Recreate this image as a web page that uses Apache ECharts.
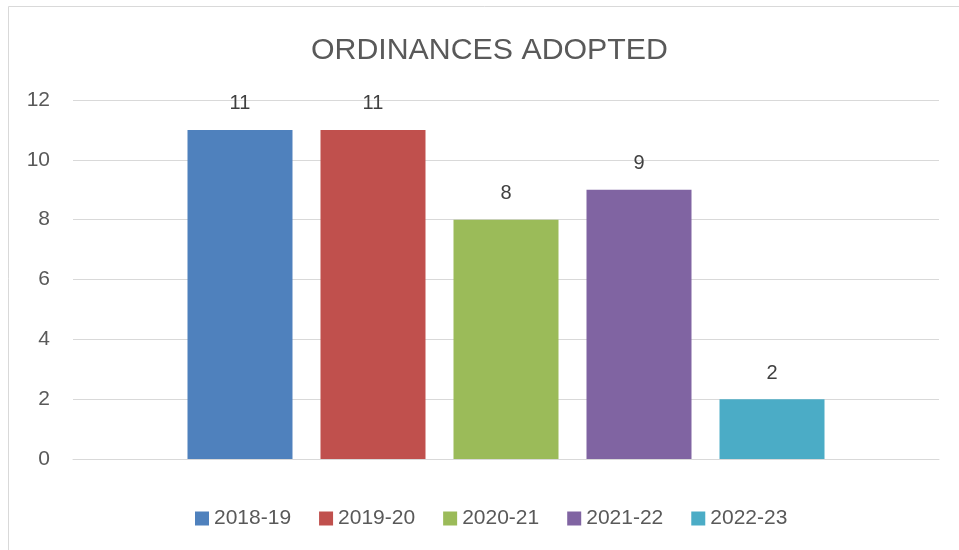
<!DOCTYPE html>
<html>
<head>
<meta charset="utf-8">
<script src="https://cdn.jsdelivr.net/npm/echarts@6/dist/echarts.min.js"></script>
<style>
html,body{margin:0;padding:0;background:#fff;}
#chart{width:959px;height:550px;}
</style>
</head>
<body>
<div id="chart"></div>
<script>
const titleText = 'ORDINANCES ADOPTED';
const seriesNames = ['2018-19', '2019-20', '2020-21', '2021-22', '2022-23'];
const seriesValues = [11, 11, 8, 9, 2];
const seriesColors = ['#4F81BD', '#C0504D', '#9BBB59', '#8064A2', '#4BACC6'];
const categories = [''];
const yTicks = [0, 2, 4, 6, 8, 10, 12];

const FONT = '"Liberation Sans", Arial, sans-serif';
const chart = echarts.init(document.getElementById('chart'), null, {renderer: 'canvas'});

const series = seriesNames.map((name, i) => ({
  name: name,
  type: 'bar',
  data: [seriesValues[i]],
  barWidth: 105,
  barGap: '26.67%',
  itemStyle: {color: seriesColors[i]},
  label: {
    show: true,
    position: 'top',
    distance: 16,
    color: '#404040',
    fontFamily: FONT,
    fontSize: 20,
    lineHeight: 20
  }
}));

chart.setOption({
  animation: false,
  backgroundColor: '#ffffff',
  title: {
    text: titleText,
    left: 311,
    top: 36,
    padding: 0,
    textStyle: {color: '#595959', fontFamily: FONT, fontSize: 30.3, fontWeight: 'normal', lineHeight: 30}
  },
  graphic: [{
    type: 'rect',
    shape: {x: 8.5, y: 6.5, width: 1200, height: 1200},
    style: {fill: 'none', stroke: '#d9d9d9', lineWidth: 1},
    silent: true,
    z: -1
  }],
  legend: {
    data: seriesNames,
    left: 195,
    top: 508,
    padding: 0,
    itemWidth: 14,
    itemHeight: 14,
    itemGap: 28,
    icon: 'rect',
    textStyle: {color: '#595959', fontFamily: FONT, fontSize: 21}
  },
  grid: {left: 73, right: 20, top: 100, bottom: 91, containLabel: false},
  xAxis: {
    type: 'category',
    data: categories,
    axisLine: {show: true, lineStyle: {color: '#d9d9d9', width: 1}},
    axisTick: {show: false},
    axisLabel: {show: false}
  },
  yAxis: {
    type: 'value',
    min: yTicks[0],
    max: yTicks[yTicks.length - 1],
    interval: 2,
    axisLine: {show: false},
    axisTick: {show: false},
    splitLine: {lineStyle: {color: '#d9d9d9', width: 1}},
    axisLabel: {color: '#595959', fontFamily: FONT, fontSize: 21, margin: 23}
  },
  series: series
});
</script>
</body>
</html>
